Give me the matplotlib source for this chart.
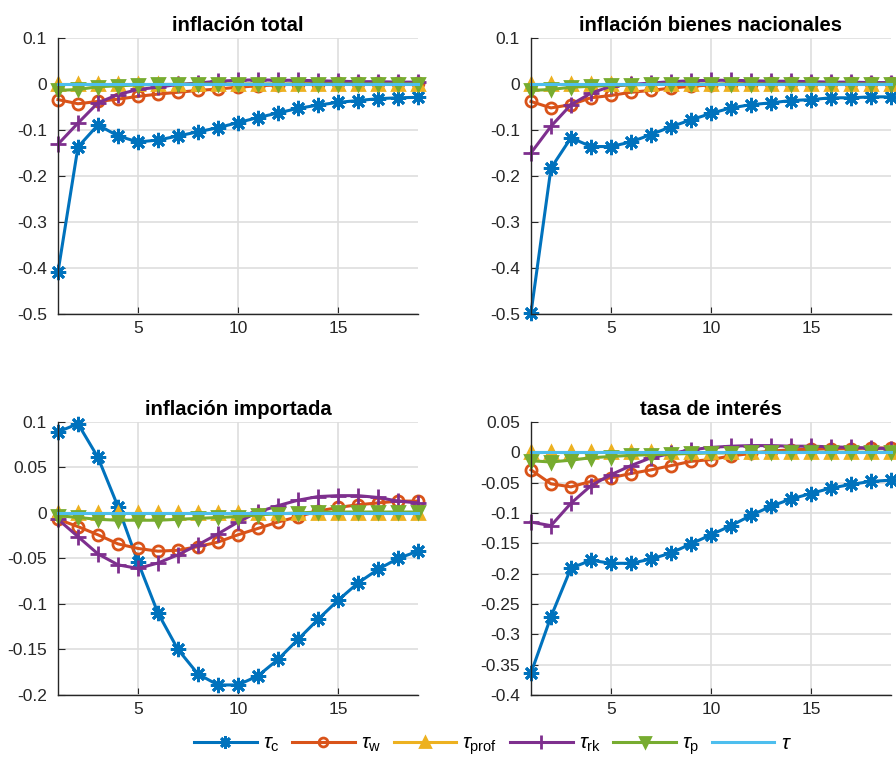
import numpy as np
import matplotlib.pyplot as plt

plt.rcParams['font.family'] = ['Liberation Sans', 'DejaVu Sans']
plt.rcParams['axes.unicode_minus'] = False
plt.rcParams['mathtext.fontset'] = 'custom'
plt.rcParams['mathtext.rm'] = 'Liberation Sans'
plt.rcParams['mathtext.it'] = 'Liberation Sans:italic'

periods = np.arange(1, 20)

series_labels = [r'$\tau_{\rm c}$', r'$\tau_{\rm w}$', r'$\tau_{\rm prof}$',
                 r'$\tau_{\rm rk}$', r'$\tau_{\rm p}$', r'$\tau$']

titles = ['inflación total', 'inflación bienes nacionales',
          'inflación importada', 'tasa de interés']

# inflación total
tot_c = [-0.409, -0.137, -0.089, -0.113, -0.126, -0.122, -0.113, -0.104, -0.095, -0.084,
         -0.073, -0.063, -0.053, -0.046, -0.040, -0.036, -0.032, -0.030, -0.029]
tot_w = [-0.034, -0.043, -0.038, -0.033, -0.027, -0.022, -0.018, -0.014, -0.011, -0.007,
         -0.004, -0.002, 0.000, 0.001, 0.002, 0.002, 0.003, 0.003, 0.003]
tot_prof = [0.0] * 19
tot_rk = [-0.131, -0.085, -0.041, -0.023, -0.012, -0.007, -0.001, 0.002, 0.006, 0.008,
          0.009, 0.008, 0.008, 0.007, 0.006, 0.005, 0.005, 0.004, 0.004]
tot_p = [-0.014, -0.012, -0.006, -0.004, -0.002, -0.001, -0.001, 0.0, 0.0, 0.0,
         0.0, 0.0, 0.0, 0.0, 0.0, 0.0, 0.0, 0.0, 0.0]
tot_tau = [0.0] * 19

# inflación bienes nacionales
nac_c = [-0.498, -0.183, -0.117, -0.136, -0.136, -0.126, -0.110, -0.093, -0.078, -0.064,
         -0.052, -0.045, -0.041, -0.036, -0.034, -0.030, -0.030, -0.028, -0.028]
nac_w = [-0.038, -0.052, -0.045, -0.030, -0.025, -0.018, -0.014, -0.009, -0.005, -0.002,
         0.000, 0.001, 0.002, 0.002, 0.002, 0.002, 0.002, 0.002, 0.002]
nac_prof = [0.0] * 19
nac_rk = [-0.150, -0.092, -0.045, -0.020, -0.005, -0.001, 0.002, 0.005, 0.007, 0.008,
          0.008, 0.007, 0.006, 0.006, 0.005, 0.004, 0.004, 0.003, 0.003]
nac_p = [-0.014, -0.012, -0.007, -0.005, -0.003, -0.002, -0.001, 0.0, 0.0, 0.0,
         0.0, 0.0, 0.0, 0.0, 0.0, 0.0, 0.0, 0.0, 0.0]
nac_tau = [0.0] * 19

# inflación importada
imp_c = [0.089, 0.098, 0.061, 0.007, -0.054, -0.110, -0.150, -0.177, -0.189, -0.189,
         -0.179, -0.161, -0.139, -0.117, -0.096, -0.077, -0.062, -0.050, -0.042]
imp_w = [-0.007, -0.015, -0.024, -0.034, -0.039, -0.042, -0.041, -0.037, -0.032, -0.024,
         -0.017, -0.010, -0.004, 0.002, 0.006, 0.009, 0.011, 0.013, 0.013]
imp_prof = [0.0] * 19
imp_rk = [-0.007, -0.026, -0.045, -0.057, -0.061, -0.055, -0.046, -0.035, -0.023, -0.010,
          0.001, 0.008, 0.014, 0.018, 0.019, 0.019, 0.017, 0.013, 0.011]
imp_p = [-0.003, -0.005, -0.007, -0.008, -0.008, -0.008, -0.007, -0.006, -0.005, -0.004,
         -0.002, -0.001, 0.000, 0.001, 0.001, 0.001, 0.001, 0.001, 0.001]
imp_tau = [0.0] * 19

# tasa de interés
int_c = [-0.364, -0.271, -0.191, -0.178, -0.183, -0.183, -0.176, -0.166, -0.151, -0.136,
         -0.121, -0.104, -0.089, -0.077, -0.068, -0.059, -0.053, -0.048, -0.046]
int_w = [-0.029, -0.052, -0.057, -0.048, -0.042, -0.035, -0.029, -0.022, -0.015, -0.012,
         -0.006, -0.002, 0.002, 0.004, 0.005, 0.006, 0.006, 0.007, 0.007]
int_prof = [0.0] * 19
int_rk = [-0.115, -0.121, -0.084, -0.055, -0.037, -0.022, -0.009, -0.002, 0.004, 0.008,
          0.010, 0.011, 0.011, 0.010, 0.010, 0.009, 0.008, 0.007, 0.006]
int_p = [-0.014, -0.016, -0.013, -0.009, -0.007, -0.005, -0.004, -0.003, -0.002, -0.001,
         -0.001, 0.0, 0.0, 0.0, 0.0, 0.0, 0.0, 0.0, 0.0]
int_tau = [0.0] * 19

panels = [
    [tot_c, tot_w, tot_prof, tot_rk, tot_p, tot_tau],
    [nac_c, nac_w, nac_prof, nac_rk, nac_p, nac_tau],
    [imp_c, imp_w, imp_prof, imp_rk, imp_p, imp_tau],
    [int_c, int_w, int_prof, int_rk, int_p, int_tau],
]

yticks = [
    np.arange(-0.5, 0.101, 0.1),
    np.arange(-0.5, 0.101, 0.1),
    np.arange(-0.2, 0.101, 0.05),
    np.arange(-0.4, 0.051, 0.05),
]
ylims = [(-0.5, 0.1), (-0.5, 0.1), (-0.2, 0.1), (-0.4, 0.05)]

colors = ['#0072BD', '#D95319', '#EDB120', '#7E2F8E', '#77AC30', '#4DBEEE']
markers = [(8, 2, 0), 'o', '^', '+', 'v', None]
msizes = [11, 8, 9, 12, 9, 0]

positions = [
    [0.0647, 0.5906, 0.4018, 0.3599],
    [0.5926, 0.5906, 0.4018, 0.3599],
    [0.0647, 0.0939, 0.4018, 0.3560],
    [0.5926, 0.0939, 0.4018, 0.3560],
]


def fmt(v):
    s = '%g' % round(v, 4)
    return '0' if s in ('0', '-0') else s


fig = plt.figure(figsize=(8.96, 7.67), dpi=100)
handles = []
for i, series in enumerate(panels):
    ax = fig.add_axes(positions[i])
    for j, vals in enumerate(series):
        h, = ax.plot(periods, vals, color=colors[j], lw=2.2, marker=markers[j],
                     ms=msizes[j], mfc='none' if j == 1 else colors[j],
                     mew=2, clip_on=False, label=series_labels[j])
        if i == 0:
            handles.append(h)
    ax.set_xlim(1, 19)
    ax.set_ylim(*ylims[i])
    ax.set_xticks([5, 10, 15])
    ax.set_yticks(yticks[i])
    ax.set_yticklabels([fmt(v) for v in yticks[i]])
    ax.grid(True, color='#DEDEDE', lw=1.2)
    ax.set_axisbelow(True)
    for s in ('top', 'right'):
        ax.spines[s].set_visible(False)
    for s in ('left', 'bottom'):
        ax.spines[s].set_color('#262626')
        ax.spines[s].set_linewidth(1.0)
    ax.tick_params(direction='in', length=5, labelsize=12.5, colors='#262626',
                   labelcolor='#262626')
    ax.tick_params(axis='y', pad=8)
    ax.tick_params(axis='x', pad=5)
    ax.set_title(titles[i], fontsize=14.6, fontweight='bold', pad=5)

fig.legend(handles=handles, loc='center', bbox_to_anchor=(0.55, 0.028), ncol=6,
           frameon=False, fontsize=15, handlelength=3.0, handletextpad=0.3,
           columnspacing=0.6, borderaxespad=0, markerscale=0.8)

fig.savefig('out.png', dpi=100)
